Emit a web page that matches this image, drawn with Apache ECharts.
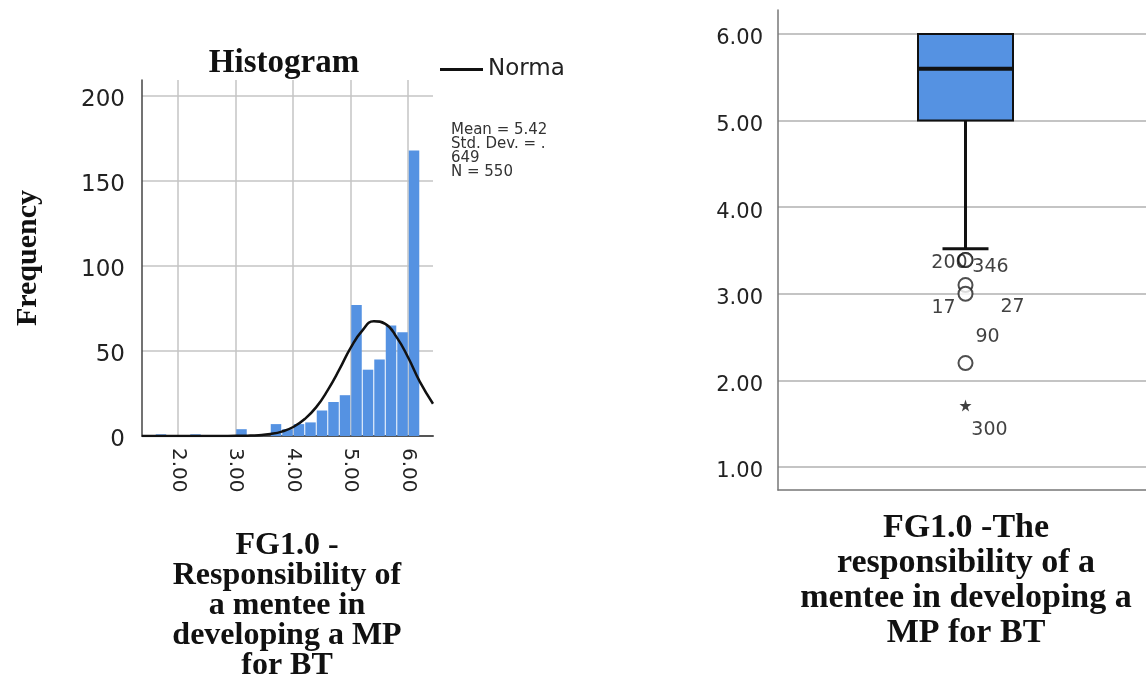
<!DOCTYPE html>
<html>
<head>
<meta charset="utf-8">
<title>FG1.0 histogram and boxplot</title>
<script src="https://cdn.jsdelivr.net/npm/echarts@6.0.0/dist/echarts.min.js"></script>
<style>
  html, body { margin: 0; padding: 0; background: #fff; }
  #main { width: 1146px; height: 682px; }
</style>
</head>
<body>
<div id="main"></div>
<script>
// histogram: lower edge of each bin and its frequency (bin width 0.2)
const binStarts = [1.6, 1.8, 2.0, 2.2, 2.4, 2.6, 2.8, 3.0, 3.2, 3.4, 3.6, 3.8,
                   4.0, 4.2, 4.4, 4.6, 4.8, 5.0, 5.2, 5.4, 5.6, 5.8, 6.0];
const binCounts = [1, 0, 0, 1, 0, 0, 0, 4, 0, 0, 7, 4,
                   7, 8, 15, 20, 24, 77, 39, 45, 65, 61, 168];
const binWidth = 0.2;

// normal curve
const normalX = [1.37, 1.8, 2.2, 2.6, 3.0, 3.2, 3.4, 3.6, 3.8, 4.0, 4.2, 4.4, 4.6, 4.8,
                 5.0, 5.2, 5.4, 5.6, 5.8, 6.0, 6.2, 6.43];
const normalY = [0, 0, 0, 0, 0.1, 0.2, 0.5, 1.2, 2.6, 5.3, 10, 17, 27, 39,
                 52, 62, 67.5, 66, 58, 46, 32, 19];

const histXTicks = [2, 3, 4, 5, 6];
const histYTicks = [0, 50, 100, 150, 200];
const statLines = ['Mean = 5.42', 'Std. Dev. = .', '649', 'N = 550'];

// boxplot: lower whisker, Q1, median, Q3, upper whisker
const boxValues = [3.52, 5.0, 5.6, 6.0, 6.0];
const boxYTicks = [1, 2, 3, 4, 5, 6];
const outlierValues = [3.39, 3.39, 3.1, 3.0, 2.2, 1.71];
const outlierIds = ['200', '346', '27', '17', '90', '300'];
const outlierExtreme = [false, false, false, false, false, true];

const BLUE = '#5592e2';
const GRID_GRAY = '#c4c4c4';
const serif = '"Liberation Serif", "Times New Roman", serif';
const sans = '"DejaVu Sans", sans-serif';

// where each case number sits next to its point (px)
const labelOffsets = {
  '200': [-16, 3], '346': [25, 7], '27': [47, 22],
  '17': [-22, 14], '90': [22, -26], '300': [24, 25]
};
const starPath = 'path://M50,0 L61,35 L98,35 L68,57 L79,91 L50,70 L21,91 L32,57 L2,35 L39,35 Z';

// tick labels sit a little below their grid lines, as in SPSS
function tickFormatter(list, digits, lowered) {
  return function (v) {
    if (list.indexOf(Math.round(v * 100) / 100) < 0) return '';
    const s = v.toFixed(digits);
    return lowered ? '{t|' + s + '}' : s;
  };
}
function lineColors(n, hideFirst, hideLast) {
  const arr = [];
  for (let i = 0; i < n; i++) arr.push(GRID_GRAY);
  if (hideFirst) arr[0] = 'transparent';
  if (hideLast) arr[n - 1] = 'transparent';
  return arr;
}
const hidden = { show: false };
const hiddenAxis = { axisLine: hidden, axisTick: hidden, axisLabel: hidden, splitLine: hidden };

const chart = echarts.init(document.getElementById('main'));

chart.setOption({
  animation: false,
  backgroundColor: '#fff',
  textStyle: { fontFamily: sans },
  legend: {
    data: ['Norma'],
    left: 440, top: 58, padding: 0,
    icon: 'rect', itemWidth: 43, itemHeight: 3, itemGap: 5,
    textStyle: { fontSize: 23, color: '#222', fontFamily: sans }
  },
  grid: [
    // 0: histogram data
    { left: 142, top: 80, width: 291, height: 356, outerBoundsMode: 'none' },
    // 1: histogram x ticks (range 1..7)
    { left: 120.5, top: 80, width: 345, height: 356, outerBoundsMode: 'none' },
    // 2: histogram y ticks (range 0..250)
    { left: 142, top: 11, width: 291, height: 425, outerBoundsMode: 'none' },
    // 3: boxplot data
    { left: 778, top: 10, width: 375, height: 480, outerBoundsMode: 'none' },
    // 4: boxplot y ticks (range 1..6.277)
    { left: 778, top: 10, width: 375, height: 457, outerBoundsMode: 'none' }
  ],
  xAxis: [
    { gridIndex: 0, type: 'value', min: 1.37, max: 6.43,
      axisLine: { show: true, lineStyle: { color: '#555', width: 2 } },
      axisTick: hidden, axisLabel: hidden, splitLine: hidden },
    { gridIndex: 1, type: 'value', min: 1, max: 7, interval: 1,
      axisLine: hidden, axisTick: hidden,
      axisLabel: { rotate: -90, margin: 12, fontSize: 20, color: '#222', formatter: tickFormatter(histXTicks, 2, false) },
      splitLine: { show: true, lineStyle: { color: lineColors(7, true, true), width: 1.5 } } },
    Object.assign({ gridIndex: 2, type: 'value', min: 0, max: 1 }, hiddenAxis),
    { gridIndex: 3, type: 'category', data: ['FG1.0'],
      axisLine: { show: true, lineStyle: { color: '#777', width: 1.5 } },
      axisTick: hidden, axisLabel: hidden, splitLine: hidden },
    Object.assign({ gridIndex: 4, type: 'value', min: 0, max: 1 }, hiddenAxis)
  ],
  yAxis: [
    { gridIndex: 0, type: 'value', min: 0, max: 209.4,
      axisLine: { show: true, lineStyle: { color: '#444', width: 1.5 } },
      axisTick: hidden, axisLabel: hidden, splitLine: hidden },
    Object.assign({ gridIndex: 1, type: 'value', min: 0, max: 1 }, hiddenAxis),
    { gridIndex: 2, type: 'value', min: 0, max: 250, interval: 50,
      axisLine: hidden, axisTick: hidden,
      axisLabel: { margin: 17, formatter: tickFormatter(histYTicks, 0, true),
                   rich: { t: { fontSize: 23, color: '#222', fontFamily: sans, padding: [9, 0, 0, 0] } } },
      splitLine: { show: true, lineStyle: { color: lineColors(6, false, true), width: 1.5 } } },
    { gridIndex: 3, type: 'value', min: 0.734, max: 6.277,
      axisLine: { show: true, lineStyle: { color: '#777', width: 1.5 } },
      axisTick: hidden, axisLabel: hidden, splitLine: hidden },
    { gridIndex: 4, type: 'value', min: 1, max: 6.277, interval: 1,
      axisLine: hidden, axisTick: hidden,
      axisLabel: { margin: 15, formatter: tickFormatter(boxYTicks, 2, true),
                   rich: { t: { fontSize: 21, color: '#222', fontFamily: sans, padding: [10, 0, 0, 0] } } },
      splitLine: { show: true, lineStyle: { color: lineColors(7, false, true), width: 2 } } }
  ],
  series: [
    {
      name: 'bins',
      type: 'custom',
      xAxisIndex: 0, yAxisIndex: 0,
      data: binStarts.map(function (s, i) { return [s, binCounts[i]]; }),
      renderItem: function (params, api) {
        const x0 = api.value(0), h = api.value(1);
        if (!h) return null;
        const p0 = api.coord([x0, 0]);
        const p1 = api.coord([x0 + binWidth, h]);
        return {
          type: 'rect',
          shape: { x: p0[0] + 0.5, y: p1[1], width: p1[0] - p0[0] - 1, height: p0[1] - p1[1] },
          style: { fill: BLUE }
        };
      },
      z: 2
    },
    {
      name: 'Norma',
      type: 'line',
      xAxisIndex: 0, yAxisIndex: 0,
      data: normalX.map(function (x, i) { return [x, normalY[i]]; }),
      smooth: 0.5,
      showSymbol: false,
      color: '#111',
      lineStyle: { color: '#111', width: 2.5 },
      z: 3
    },
    {
      name: 'box',
      type: 'custom',
      xAxisIndex: 3, yAxisIndex: 3,
      data: [[0].concat(boxValues)],
      renderItem: function (params, api) {
        const lo = api.coord([0, api.value(1)]);
        const q1 = api.coord([0, api.value(2)]);
        const med = api.coord([0, api.value(3)]);
        const q3 = api.coord([0, api.value(4)]);
        const hi = api.coord([0, api.value(5)]);
        const cx = q1[0], hw = 47.5, cw = 23;
        const ink = { stroke: '#111', lineWidth: 3 };
        return {
          type: 'group',
          children: [
            { type: 'line', shape: { x1: cx, y1: q1[1], x2: cx, y2: lo[1] }, style: ink },
            { type: 'line', shape: { x1: cx - cw, y1: lo[1], x2: cx + cw, y2: lo[1] }, style: ink },
            { type: 'line', shape: { x1: cx, y1: q3[1], x2: cx, y2: hi[1] }, style: ink },
            { type: 'rect', shape: { x: cx - hw, y: q3[1], width: hw * 2, height: q1[1] - q3[1] },
              style: { fill: BLUE, stroke: '#111', lineWidth: 2 } },
            { type: 'line', shape: { x1: cx - hw, y1: med[1], x2: cx + hw, y2: med[1] },
              style: { stroke: '#111', lineWidth: 4 } }
          ]
        };
      },
      z: 2
    },
    {
      name: 'outliers',
      type: 'scatter',
      xAxisIndex: 3, yAxisIndex: 3,
      data: outlierValues.map(function (v, i) {
        const star = outlierExtreme[i];
        return {
          value: [0, v],
          symbol: star ? starPath : 'emptyCircle',
          symbolSize: star ? 12 : 14,
          itemStyle: star ? { color: '#111', borderWidth: 0 } : { color: '#222', borderWidth: 1.5 },
          label: { formatter: outlierIds[i], offset: labelOffsets[outlierIds[i]] }
        };
      }),
      label: { show: true, position: 'inside', fontSize: 19, color: '#111', fontFamily: sans },
      z: 4
    }
  ],
  graphic: [
    { type: 'text', x: 284, y: 63,
      style: { text: 'Histogram', font: 'bold 33px ' + serif, fill: '#111', align: 'center', verticalAlign: 'middle' } },
    { type: 'text', x: 28, y: 258, rotation: Math.PI / 2,
      style: { text: 'Frequency', font: 'bold 30px ' + serif, fill: '#111', align: 'center', verticalAlign: 'middle' } },
    { type: 'text', x: 451, y: 123,
      style: { text: statLines.join('\n'), font: '15px ' + sans, lineHeight: 14, fill: '#333' } },
    { type: 'text', x: 287, y: 531,
      style: { text: 'FG1.0 -\nResponsibility of\na mentee in\ndeveloping a MP\nfor BT',
               font: 'bold 32px ' + serif, lineHeight: 30, fill: '#111', align: 'center' } },
    { type: 'text', x: 966, y: 511,
      style: { text: 'FG1.0 -The\nresponsibility of a\nmentee in developing a\nMP for BT',
               font: 'bold 34px ' + serif, lineHeight: 35, fill: '#111', align: 'center' } }
  ]
});
</script>
</body>
</html>
